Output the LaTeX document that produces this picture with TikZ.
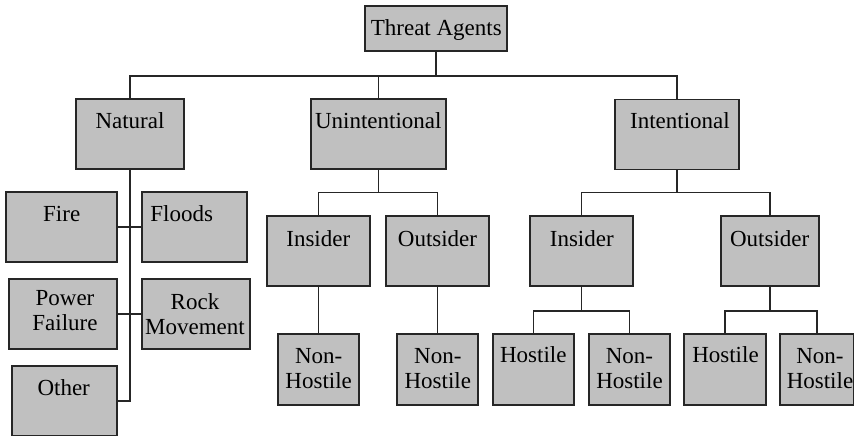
\documentclass[tikz,border=0pt]{standalone}
\usepackage{fontspec}
\setmainfont{Liberation Serif}
\begin{document}
\begin{tikzpicture}[x=1pt,y=-1pt,
  box/.style={draw=black!85, fill={rgb,255:red,192;green,192;blue,192}, line width=1.6pt, rectangle, inner sep=0pt},
  lbl/.style={anchor=base, inner sep=0pt, align=center, font=\fontsize{23}{25}\selectfont},
  link/.style={draw=black!85, line width=1.5pt}]
\useasboundingbox (0,0) rectangle (855,437);
% boxes
\node[box, minimum width=142pt, minimum height=45pt] (ta)    at (436,28.5)   {};
\node[box, minimum width=108pt, minimum height=70pt] (nat)   at (130,134)    {};
\node[box, minimum width=135pt, minimum height=70pt] (unint) at (378.5,134)  {};
\node[box, minimum width=124pt, minimum height=70pt] (int)   at (677,134.3)  {};
\node[box, minimum width=111pt, minimum height=70pt] (fire)  at (61.5,227)   {};
\node[box, minimum width=105pt, minimum height=70pt] (flood) at (194.5,227)  {};
\node[box, minimum width=108pt, minimum height=70pt] (pf)    at (63,314)     {};
\node[box, minimum width=108pt, minimum height=70pt] (rm)    at (196,314)    {};
\node[box, minimum width=105pt, minimum height=69.5pt] (oth) at (64.5,400.8) {};
\node[box, minimum width=103pt, minimum height=70pt] (uin)   at (318.5,251)  {};
\node[box, minimum width=103pt, minimum height=70pt] (uout)  at (437.5,251)  {};
\node[box, minimum width=81pt, minimum height=71pt]  (unh)   at (318.5,369.5) {};
\node[box, minimum width=81pt, minimum height=71pt]  (uonh)  at (437.5,369.5) {};
\node[box, minimum width=103pt, minimum height=70pt] (iin)   at (581.5,251)  {};
\node[box, minimum width=98pt, minimum height=70pt]  (iout)  at (770,251)    {};
\node[box, minimum width=81pt, minimum height=71pt]  (ih)    at (533.5,369.5) {};
\node[box, minimum width=81pt, minimum height=71pt]  (inh)   at (629.5,369.5) {};
\node[box, minimum width=82pt, minimum height=71pt]  (oh)    at (725,369.5)  {};
\node[box, minimum width=73.5pt, minimum height=71pt] (onh)  at (816.75,369.5) {};
% labels (two-line labels are placed by the baseline of their last line)
\node[lbl] (ta-t)    at (436.3,35)  {Threat Agents};
\node[lbl] (nat-t)   at (130,128.3) {Natural};
\node[lbl] (unint-t) at (378.3,128.3) {Unintentional};
\node[lbl] (int-t)   at (680,128.3) {Intentional};
\node[lbl] (fire-t)  at (61.7,221.7) {Fire};
\node[lbl] (flood-t) at (181.7,221.7) {Floods};
\node[lbl] (pf-t)    at (65,330)    {Power\\Failure};
\node[lbl] (rm-t)    at (195,334)   {Rock\\Movement};
\node[lbl] (oth-t)   at (63.7,395)  {Other};
\node[lbl] (uin-t)   at (318.3,246) {Insider};
\node[lbl] (uout-t)  at (437.5,246) {Outsider};
\node[lbl] (unh-t)   at (318.7,388.3) {Non-\\Hostile};
\node[lbl] (uonh-t)  at (437.8,388.3) {Non-\\Hostile};
\node[lbl] (iin-t)   at (581.8,246) {Insider};
\node[lbl] (iout-t)  at (769.7,246) {Outsider};
\node[lbl] (ih-t)    at (533.3,362.7) {Hostile};
\node[lbl] (inh-t)   at (629.5,388.3) {Non-\\Hostile};
\node[lbl] (oh-t)    at (725.5,362.7) {Hostile};
\node[lbl] (onh-t)   at (820,388.3) {Non-\\Hostile};
% junction points
\coordinate (j0) at (436,76);
\coordinate (ju) at (378.5,192.3);
\coordinate (ji) at (677,192.3);
\coordinate (jii) at (581.5,311);
\coordinate (jio) at (770,311);
% top level
\draw[link] (ta.south) -- (j0);
\draw[link] (nat.north) -- (nat.north |- j0) -- (int.north |- j0) -- (int.north);
\draw[link] (unint.north) -- (unint.north |- j0);
% natural branch
\draw[link] (nat.south) -- (nat.south |- oth.east) -- (oth.east);
\draw[link] (fire.east) -- (flood.west);
\draw[link] (pf.east) -- (rm.west);
% unintentional branch
\draw[link] (unint.south) -- (ju);
\draw[link] (uin.north) -- (uin.north |- ju) -- (uout.north |- ju) -- (uout.north);
\draw[link] (uin.south) -- (unh.north);
\draw[link] (uout.south) -- (uonh.north);
% intentional branch
\draw[link] (int.south) -- (ji);
\draw[link] (iin.north) -- (iin.north |- ji) -- (iout.north |- ji) -- (iout.north);
\draw[link] (iin.south) -- (jii);
\draw[link] (ih.north) -- (ih.north |- jii) -- (inh.north |- jii) -- (inh.north);
\draw[link] (iout.south) -- (jio);
\draw[link] (oh.north) -- (oh.north |- jio) -- (onh.north |- jio) -- (onh.north);
\end{tikzpicture}
\end{document}
